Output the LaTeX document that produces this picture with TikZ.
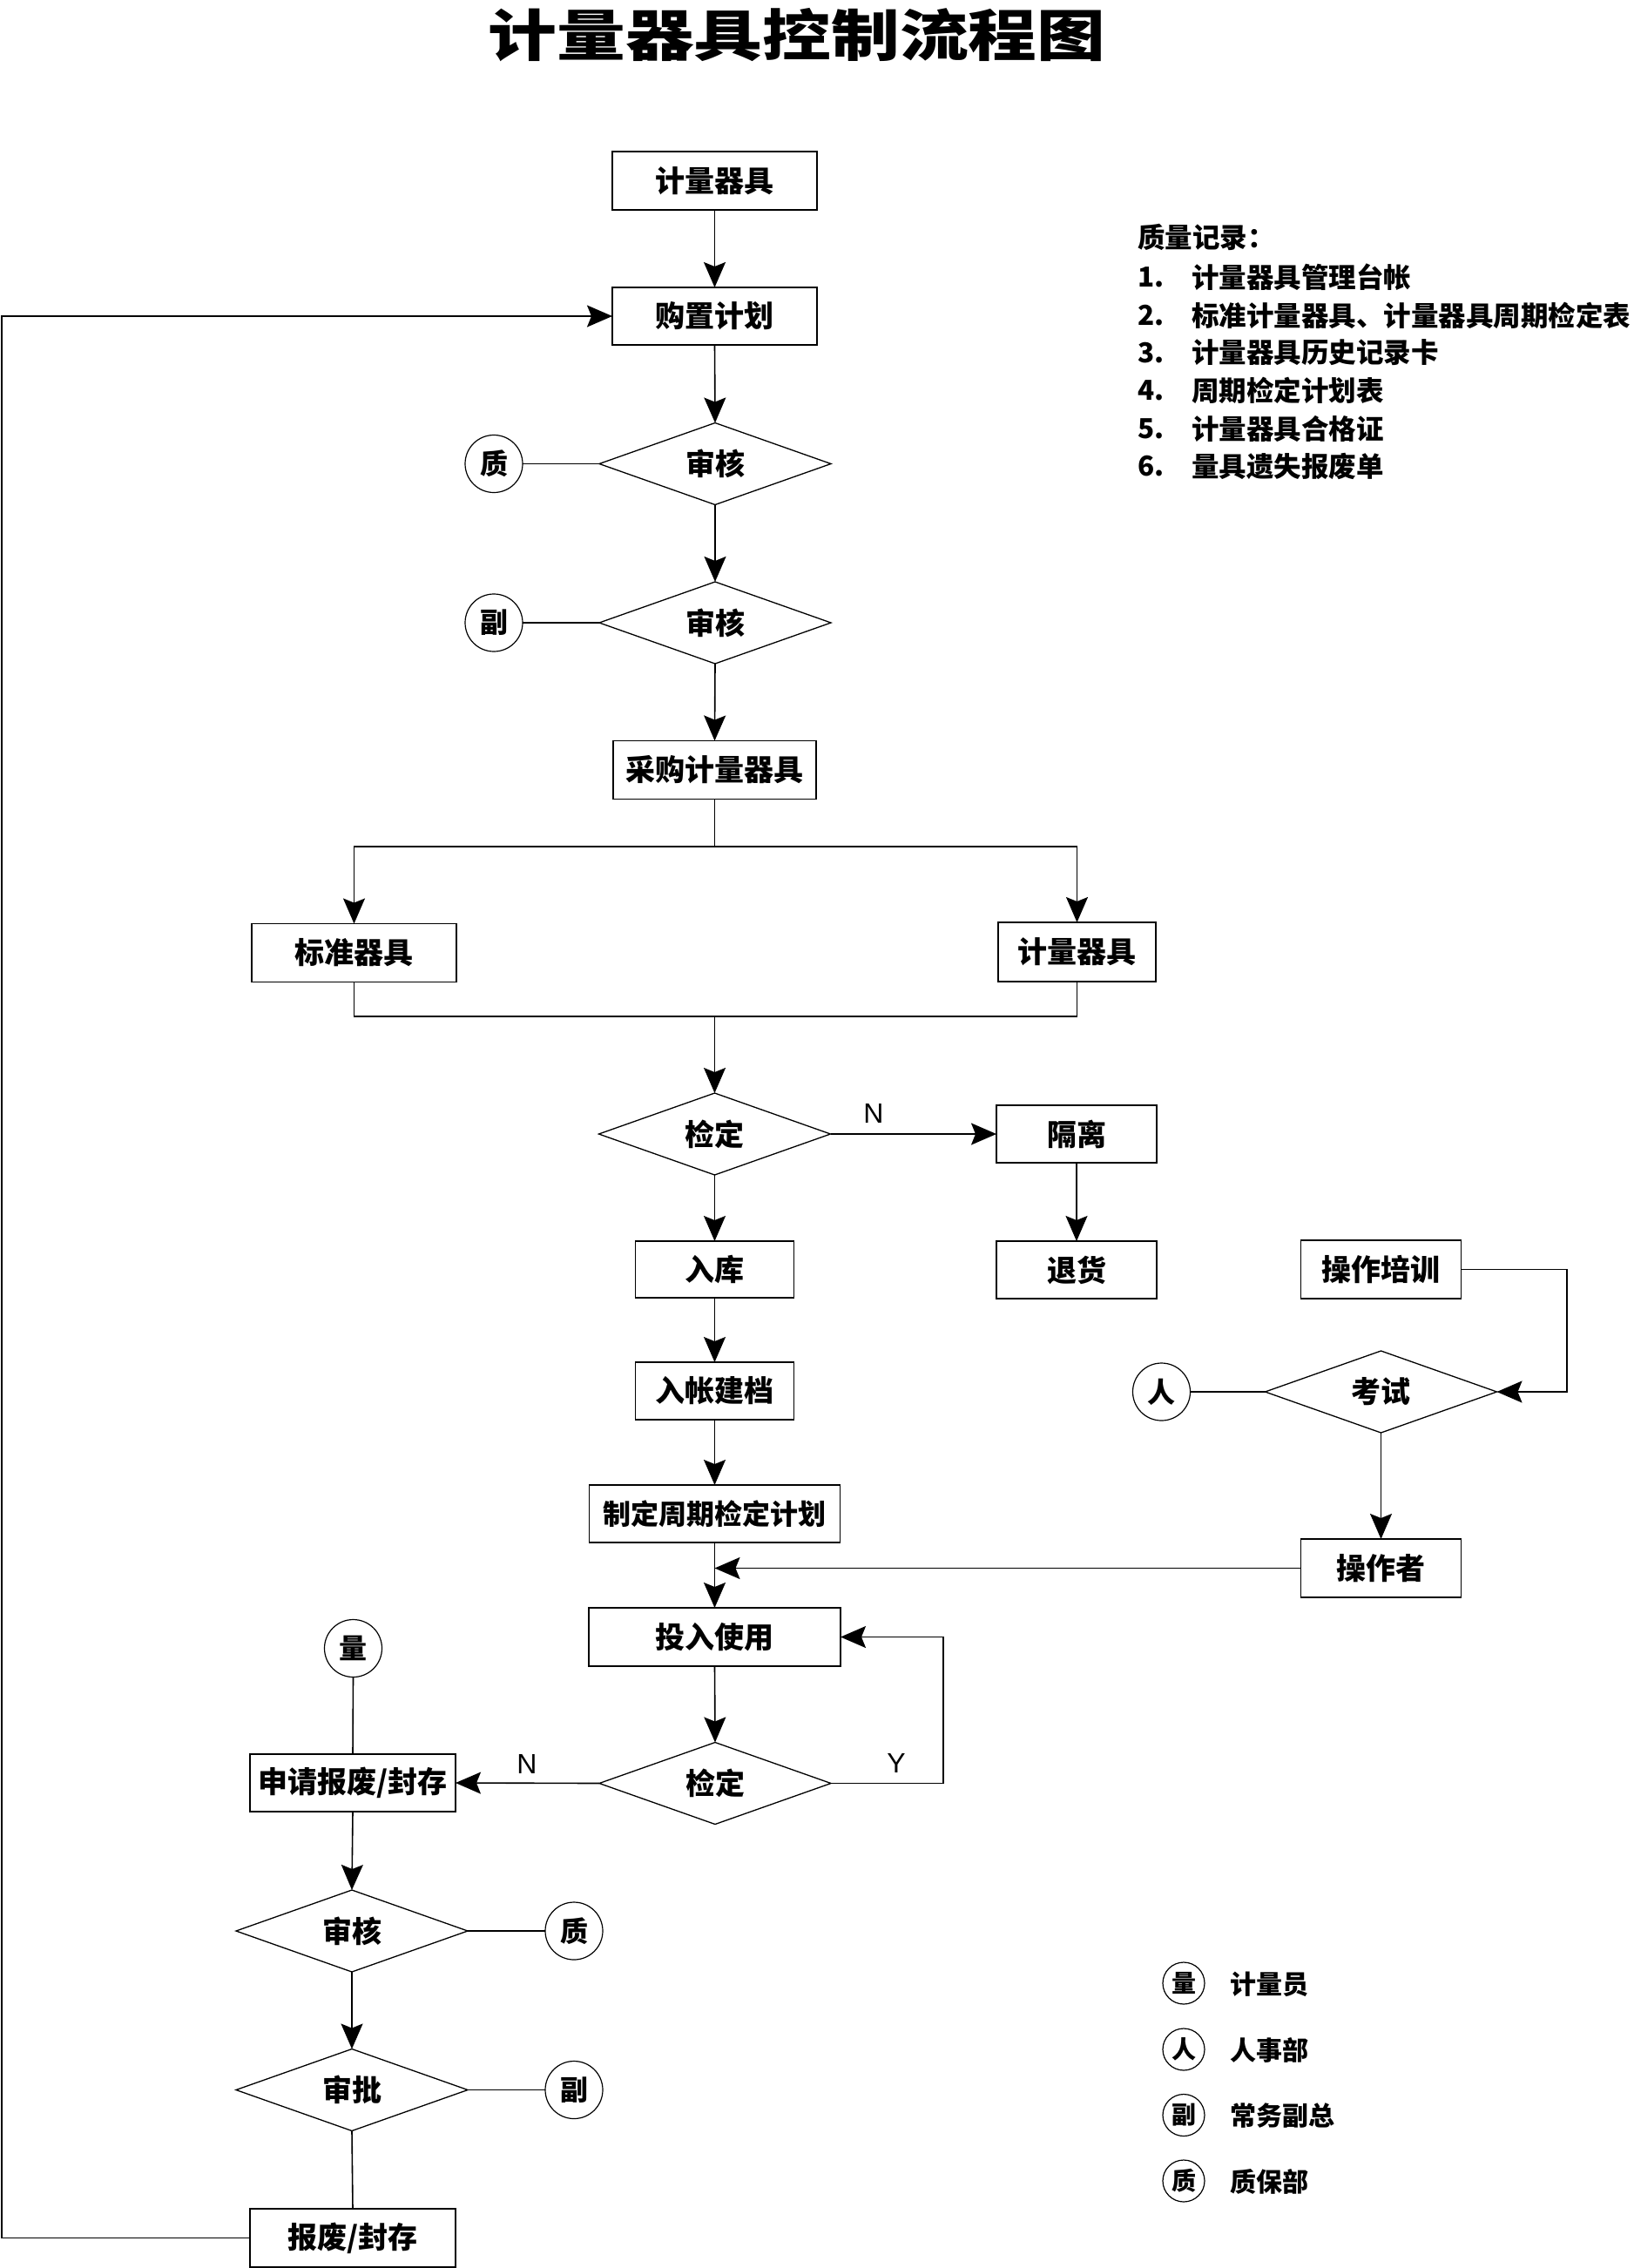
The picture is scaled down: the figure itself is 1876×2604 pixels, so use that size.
\documentclass[tikz,border=0pt]{standalone}
\usepackage{fontspec}
\usepackage{graphicx}
\usetikzlibrary{shapes.geometric,arrows.meta,calc}
\newfontfamily\hei{Noto Sans CJK SC}
\newfontfamily\arial{Liberation Sans}
\tikzset{
  box/.style={draw,line width=1.8pt,inner sep=0pt,outer sep=0pt,
    font=\hei\bfseries\fontsize{34}{40}\selectfont},
  dia/.style={draw,diamond,line width=1.3pt,inner sep=0pt,outer sep=0pt,
    minimum width=266pt,minimum height=94pt,aspect=2.83,
    font=\hei\bfseries\fontsize{34}{40}\selectfont},
  who/.style={draw,circle,line width=1.2pt,minimum size=66pt,inner sep=0pt,outer sep=0pt,
    font=\hei\bfseries\fontsize{32}{36}\selectfont},
  leg/.style={draw,circle,line width=1.2pt,minimum size=48pt,inner sep=0pt,outer sep=0pt,
    font=\hei\bfseries\fontsize{28}{32}\selectfont},
  legtxt/.style={anchor=west,inner sep=0pt,font=\hei\bfseries\fontsize{30}{34}\selectfont},
  conn/.style={line width=1.6pt},
  arr/.style={conn,-{Stealth[length=29pt,width=25pt,inset=5pt]}},
  lbl/.style={inner sep=0pt,font=\arial\fontsize{32}{36}\selectfont},
  rec/.style={anchor=west,inner sep=0pt,font=\hei\bfseries\fontsize{31.5}{36}\selectfont},
}
\begin{document}
\begin{tikzpicture}[x=1pt,y=-1pt]
\useasboundingbox (0,0) rectangle (1876,2604);
\fill[white] (0,0) rectangle (1876,2604);

% title
\node[inner sep=0pt,font=\hei\bfseries\fontsize{64}{70}\selectfont] (title) at (915,40)
  {\scalebox{1.23}[1]{计量器具控制流程图}};

% quality records
\node[rec] (qr) at (1306,272) {质量记录：};
\foreach \n/\t/\y [count=\i] in {1/计量器具管理台帐/318,2/标准计量器具、计量器具周期检定表/362,3/计量器具历史记录卡/405,4/周期检定计划表/448,5/计量器具合格证/492,6/量具遗失报废单/535}{
  \node[rec] (qn\i) at (1306,\y) {\n.};
  \node[rec] (qt\i) at (1368,\y) {\t};
}

% main column
\node[box,minimum width=235pt,minimum height=67pt] (b1) at (820.5,207.5) {计量器具};
\node[box,minimum width=235pt,minimum height=66pt] (b2) at (820.5,363) {购置计划};
\node[dia] (d1) at (821,532.5) {审核};
\node[who] (c1) at (567,532.5) {质};
\node[dia] (d2) at (821,715) {审核};
\node[who] (c2) at (567,715) {副};
\node[box,minimum width=233pt,minimum height=67pt] (b3) at (820.5,884) {采购计量器具};
\node[box,minimum width=235pt,minimum height=67pt] (b4) at (406.5,1094) {标准器具};
\node[box,minimum width=181pt,minimum height=68pt] (b5) at (1236.5,1093) {计量器具};
\node[dia] (d3) at (820.5,1302) {检定};
\node[box,minimum width=184pt,minimum height=66pt] (b6) at (1236,1302) {隔离};
\node[box,minimum width=184pt,minimum height=66pt] (b7) at (1236,1458) {退货};
\node[box,minimum width=182pt,minimum height=65pt] (b8) at (820.5,1457.5) {入库};
\node[box,minimum width=182pt,minimum height=66pt] (b9) at (820.5,1597) {入帐建档};
\node[box,minimum width=288pt,minimum height=66pt,font=\hei\bfseries\fontsize{32}{38}\selectfont] (b10) at (820.5,1738) {制定周期检定计划};
\node[box,minimum width=184pt,minimum height=67pt] (b11) at (1585.5,1457.5) {操作培训};
\node[dia] (d4) at (1585.5,1598) {考试};
\node[who] (c3) at (1333.5,1598) {人};
\node[box,minimum width=184pt,minimum height=67pt] (b12) at (1585.5,1800.5) {操作者};
\node[box,minimum width=289pt,minimum height=67pt] (b13) at (820.5,1879.5) {投入使用};
\node[who] (c4) at (405.5,1892.5) {量};
\node[box,minimum width=236pt,minimum height=66pt] (b14) at (405,2047) {申请报废/封存};
\node[dia] (d5) at (821,2047.5) {检定};
\node[dia] (d6) at (404,2217) {审核};
\node[who] (c5) at (659,2217) {质};
\node[dia] (d7) at (404,2399.5) {审批};
\node[who] (c6) at (659,2399.5) {副};
\node[box,minimum width=236pt,minimum height=67pt] (b15) at (405,2569.5) {报废/封存};

% labels
\node[lbl] (n1) at (1003,1278) {N};
\node[lbl] (n2) at (605,2025) {N};
\node[lbl] (y1) at (1029,2024) {Y};

% legend
\node[leg] (l1) at (1359,2277) {量};
\node[legtxt] (lt1) at (1412,2278) {计量员};
\node[leg] (l2) at (1359,2353) {人};
\node[legtxt] (lt2) at (1412,2354) {人事部};
\node[leg] (l3) at (1359,2428.5) {副};
\node[legtxt] (lt3) at (1412,2429) {常务副总};
\node[leg] (l4) at (1359,2504) {质};
\node[legtxt] (lt4) at (1412,2505) {质保部};

% helper coordinates
\coordinate (lft) at (2,0);
\coordinate (rgt) at (1799,0);
\coordinate (yrt) at (1083,0);
\coordinate (s1) at (820.5,972);
\coordinate (m1) at (820.5,1167);

% connectors
\draw[arr] (b1.south) -- (b2.north);
\draw[arr] (b15.west) -- (b15.west -| lft) -- (b2.west -| lft) -- (b2.west);
\draw[arr] (b2.south) -- (d1.north);
\draw[conn] (c1.east) -- (d1.west);
\draw[arr] (d1.south) -- (d2.north);
\draw[conn] (c2.east) -- (d2.west);
\draw[arr] (d2.south) -- (b3.north);
\draw[conn] (b3.south) -- (s1);
\draw[arr] (s1) -| (b4.north);
\draw[arr] (s1) -| (b5.north);
\draw[conn] (b4.south) |- (m1);
\draw[conn] (b5.south) |- (m1);
\draw[arr] (m1) -- (d3.north);
\draw[arr] (d3.east) -- (b6.west);
\draw[arr] (b6.south) -- (b7.north);
\draw[arr] (d3.south) -- (b8.north);
\draw[arr] (b8.south) -- (b9.north);
\draw[arr] (b9.south) -- (b10.north);
\draw[arr] (b10.south) -- (b13.north);
\coordinate (j1) at (b10.south |- b12.west);
\draw[arr] (b12.west) -- (j1);
\draw[arr] (b11.east) -- (b11.east -| rgt) -- (d4.east -| rgt) -- (d4.east);
\draw[conn] (c3.east) -- (d4.west);
\draw[arr] (d4.south) -- (b12.north);
\draw[arr] (b13.south) -- (d5.north);
\draw[arr] (d5.west) -- (b14.east);
\draw[arr] (d5.east) -- (d5.east -| yrt) -- (b13.east -| yrt) -- (b13.east);
\draw[conn] (c4.south) -- (b14.north);
\draw[arr] (b14.south) -- (d6.north);
\draw[conn] (d6.east) -- (c5.west);
\draw[arr] (d6.south) -- (d7.north);
\draw[conn] (d7.east) -- (c6.west);
\draw[conn] (d7.south) -- (b15.north);
\end{tikzpicture}
\end{document}
